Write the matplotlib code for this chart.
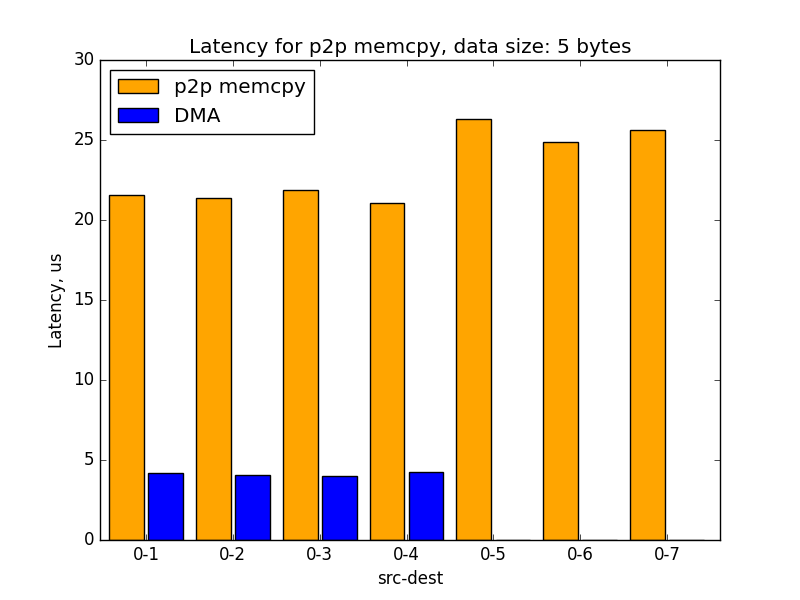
import numpy as np
import matplotlib
matplotlib.use("Agg")
import matplotlib.pyplot as plt

plt.style.use("classic")

pairs = ["0-1", "0-2", "0-3", "0-4", "0-5", "0-6", "0-7"]
p2p_latency = [21.55, 21.375, 21.85, 21.05, 26.3, 24.85, 25.6]
dma_latency = [4.17, 4.06, 4.0, 4.23, 0.0, 0.0, 0.0]

width = 0.4
gap = 0.05
ind = np.arange(len(pairs))

fig, ax = plt.subplots(figsize=(8, 6), dpi=100)
ax.bar(ind - (width + gap) / 2, p2p_latency, width, color="orange", label="p2p memcpy")
ax.bar(ind + (width + gap) / 2, dma_latency, width, color="blue", label="DMA")

ax.set_xticks(ind)
ax.set_xticklabels(pairs)
ax.set_xlim(-0.53, 6.61)
ax.set_ylim(0, 30)
ax.set_xlabel("src-dest")
ax.set_ylabel("Latency, us")
ax.set_title("Latency for p2p memcpy, data size: 5 bytes")
ax.legend(loc="upper left")

plt.savefig("out.png", dpi=100)
